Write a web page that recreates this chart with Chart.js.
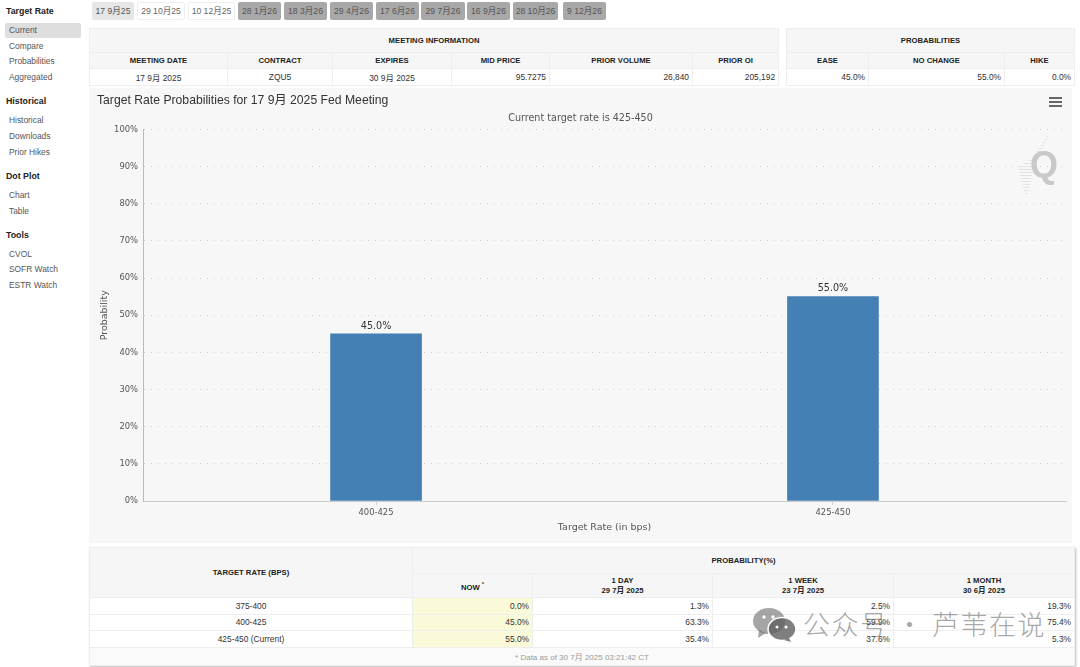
<!DOCTYPE html>
<html>
<head>
<meta charset="utf-8">
<script src="https://cdn.jsdelivr.net/npm/chart.js@4"></script>
<style>
  html, body { margin:0; padding:0; background:#fff; width:1080px; height:667px; overflow:hidden; }
  body { font-family:"Liberation Sans","Noto Sans CJK SC",sans-serif; color:#333; position:relative; }
  .side-h { position:absolute; left:6px; font-size:8.8px; font-weight:bold; color:#222; line-height:12px; }
  .side-i { position:absolute; left:9px; font-size:8.4px; color:#555; line-height:12px; }
  #side-sel { position:absolute; left:5px; top:23px; width:76px; height:15px; background:#dedede; border-radius:2px; }
  .tab { position:absolute; top:2px; height:18px; line-height:18px; text-align:center; font-size:8.6px; border-radius:2px; box-sizing:border-box; }
  .tab.near { background:#e6e6e6; color:#555; }
  .tab.open { background:#fff; color:#666; border:1px solid #eee; line-height:16px; }
  .tab.far { background:#a8a8a8; color:#555; }
  table { position:absolute; border-collapse:collapse; table-layout:fixed; font-size:8.4px; color:#333; }
  td, th { border:1px solid #eee; padding:0 3px; overflow:hidden; white-space:nowrap; box-sizing:border-box; }
  th { background:#f6f6f6; font-size:7.7px; font-weight:bold; color:#222; text-align:center; line-height:10px; }
  td { text-align:right; background:#fff; }
  td.c { text-align:center; }
  td.now { background:#fafad8; }
  #foot { box-shadow:1px 1px 2px #bbb; }
  #foot tr.note td { background:#fafafa; color:#999; text-align:center; font-size:8px; }
  #panel { position:absolute; left:89px; top:88px; width:983px; height:455px; background:#f7f7f7; }
  #heading { position:absolute; left:97px; top:92px; font-size:12.2px; color:#333; line-height:16px; }
  #menu { position:absolute; left:1049px; top:97px; width:13px; height:2px; background:#666; box-shadow:0 4px 0 #666, 0 8px 0 #666; }
  #logo { position:absolute; left:1030px; top:146px; font-size:36px; font-weight:bold; color:#c9c9c9; line-height:38px; }
  #logo-rays { position:absolute; left:1018px; top:134px; width:32px; height:60px;
    background:repeating-linear-gradient(0deg, #e2e2e2 0 1px, transparent 1px 3px);
    clip-path:polygon(95% 0, 100% 0, 55% 45%, 30% 100%, 22% 100%, 0 55%, 45% 40%); }
  #mark { position:absolute; left:753px; top:606px; width:300px; height:36px; color:rgba(110,110,110,.62); }
  #mark span { position:absolute; left:50px; top:0; font-size:27px; line-height:36px; white-space:nowrap; letter-spacing:1.5px; font-family:"Noto Sans CJK SC",sans-serif; font-weight:300; }
  #mark svg { position:absolute; left:0; top:2px; }
</style>
</head>
<body>
<div id="side-sel"></div>
<div id="sidebar"></div>
<div id="tabs"></div>

<table style="left:89px;top:28px;width:689px;height:57px">
  <colgroup><col style="width:138px"><col style="width:105px"><col style="width:119px"><col style="width:98px"><col style="width:143px"><col style="width:86px"></colgroup>
  <tr style="height:24px"><th colspan="6">MEETING INFORMATION</th></tr>
  <tr style="height:16px"><th>MEETING DATE</th><th>CONTRACT</th><th>EXPIRES</th><th>MID PRICE</th><th>PRIOR VOLUME</th><th>PRIOR OI</th></tr>
  <tr style="height:17px"><td class="c">17 9月 2025</td><td class="c">ZQU5</td><td class="c">30 9月 2025</td><td>95.7275</td><td>26,840</td><td>205,192</td></tr>
</table>
<table style="left:786px;top:28px;width:288px;height:57px">
  <colgroup><col style="width:82px"><col style="width:136px"><col style="width:70px"></colgroup>
  <tr style="height:24px"><th colspan="3">PROBABILITIES</th></tr>
  <tr style="height:16px"><th>EASE</th><th>NO CHANGE</th><th>HIKE</th></tr>
  <tr style="height:17px"><td>45.0%</td><td>55.0%</td><td>0.0%</td></tr>
</table>

<div id="panel"><canvas id="rate-chart" width="983" height="455"></canvas></div>
<div id="heading">Target Rate Probabilities for 17 9月 2025 Fed Meeting</div>
<div id="menu"></div>
<div id="logo-rays"></div>
<div id="logo">Q</div>

<table id="foot" style="left:89px;top:547px;width:985px;height:118px">
  <colgroup><col style="width:323px"><col style="width:120px"><col style="width:180px"><col style="width:181px"><col style="width:181px"></colgroup>
  <tr style="height:26px"><th rowspan="2">TARGET RATE (BPS)</th><th colspan="4">PROBABILITY(%)</th></tr>
  <tr style="height:24px"><th>NOW <sup style="font-size:5px">*</sup></th><th>1 DAY<br>29 7月 2025</th><th>1 WEEK<br>23 7月 2025</th><th>1 MONTH<br>30 6月 2025</th></tr>
  <tbody id="prob-rows"></tbody>
  <tr class="note" style="height:18px"><td colspan="5">* Data as of 30 7月 2025 03:21:42 CT</td></tr>
</table>

<div id="mark">
  <svg width="44" height="34" viewBox="0 0 44 34">
    <ellipse cx="16" cy="13" rx="16" ry="13" fill="rgba(110,110,110,.62)"/>
    <path d="M6 22 L5 30 L13 25 Z" fill="rgba(110,110,110,.62)"/>
    <ellipse cx="29" cy="21" rx="14" ry="11.5" fill="rgba(95,95,95,.8)" stroke="#fff" stroke-width="1.5"/>
    <path d="M36 30 L38 34 L31 32 Z" fill="rgba(95,95,95,.8)"/>
    <circle cx="11" cy="9" r="1.7" fill="#fff"/><circle cx="20" cy="9" r="1.7" fill="#fff"/>
    <circle cx="24" cy="19" r="1.5" fill="#fff"/><circle cx="33" cy="19" r="1.5" fill="#fff"/>
  </svg>
  <span>公众号 · 芦苇在说</span>
</div>

<script>
// data
const rateLabels = ['400-425', '425-450'];
const rateProbs = [45.0, 55.0];
const yTicks = [0, 10, 20, 30, 40, 50, 60, 70, 80, 90, 100];

const tabLabels = ['17 9月25','29 10月25','10 12月25','28 1月26','18 3月26','29 4月26','17 6月26','29 7月26','16 9月26','28 10月26','9 12月26'];
const tabLefts = [92,137,188,238,284,330,376,421,467,513,563];
const tabWidths = [42,48,47,43,43,43,43,44,43,45,43];

const rowRates = ['375-400', '400-425', '425-450 (Current)'];
const rowNow = ['0.0%', '45.0%', '55.0%'];
const rowDay = ['1.3%', '63.3%', '35.4%'];
const rowWeek = ['2.5%', '59.9%', '37.6%'];
const rowMonth = ['19.3%', '75.4%', '5.3%'];

const sideHeads = [['Target Rate', 5], ['Historical', 95], ['Dot Plot', 170], ['Tools', 229]];
const sideItems = [['Current', 24], ['Compare', 40], ['Probabilities', 55], ['Aggregated', 71],
  ['Historical', 114], ['Downloads', 130], ['Prior Hikes', 146],
  ['Chart', 189], ['Table', 205], ['CVOL', 248], ['SOFR Watch', 263], ['ESTR Watch', 279]];

// ── page furniture ──
document.getElementById('sidebar').innerHTML =
  sideHeads.map(h => `<div class="side-h" style="top:${h[1]}px">${h[0]}</div>`).join('') +
  sideItems.map(s => `<div class="side-i" style="top:${s[1]}px">${s[0]}</div>`).join('');

document.getElementById('tabs').innerHTML = tabLabels.map((t, i) => {
  const cls = i === 0 ? 'near' : i < 3 ? 'open' : 'far';
  return `<div class="tab ${cls}" style="left:${tabLefts[i]}px;width:${tabWidths[i]}px">${t}</div>`;
}).join('');

document.getElementById('prob-rows').innerHTML = rowRates.map((r, i) => `
  <tr style="height:16.6px">
    <td class="c">${r}</td>
    <td class="now">${rowNow[i]}</td>
    <td>${rowDay[i]}</td>
    <td>${rowWeek[i]}</td>
    <td>${rowMonth[i]}</td>
  </tr>`).join('');

// ── value labels above bars ──
const barValueLabels = {
  id: 'barValueLabels',
  afterDatasetsDraw(chart) {
    const { ctx } = chart;
    chart.getDatasetMeta(0).data.forEach((bar, i) => {
      ctx.save();
      ctx.font = '9.6px "DejaVu Sans"';
      ctx.fillStyle = '#333';
      ctx.textAlign = 'center';
      ctx.textBaseline = 'bottom';
      ctx.fillText(rateProbs[i].toFixed(1) + '%', bar.x, bar.y - 3);
      ctx.restore();
    });
  }
};

new Chart(document.getElementById('rate-chart'), {
  type: 'bar',
  data: {
    datasets: [{
      data: rateProbs.map((v, i) => ({ x: i, y: v })),
      backgroundColor: '#4580b5',
      borderWidth: 0,
      barThickness: 91,
    }]
  },
  plugins: [barValueLabels],
  options: {
    responsive: false,
    animation: false,
    layout: { padding: { left: 6, right: 6 } },
    plugins: {
      legend: { display: false },
      tooltip: { enabled: false },
      title: {
        display: true,
        text: 'Current target rate is 425-450',
        color: '#555',
        font: { family: 'DejaVu Sans', size: 9.6, weight: 'normal' },
        padding: { top: 25, bottom: 5 },
      },
    },
    scales: {
      x: {
        type: 'linear',
        offset: false,
        min: -0.51,
        max: 1.51,
        afterBuildTicks: s => { s.ticks = rateLabels.map((_, i) => ({ value: i })); },
        afterFit: s => { s.height = 42; },
        ticks: {
          callback: v => rateLabels[v],
          color: '#555',
          font: { family: 'DejaVu Sans', size: 8.4 },
          maxRotation: 0,
          padding: 3,
        },
        grid: { offset: false, drawOnChartArea: false, color: '#ccc', tickLength: 4 },
        border: { color: '#ccc', width: 1 },
        title: {
          display: true,
          text: 'Target Rate (in bps)',
          color: '#555',
          font: { family: 'DejaVu Sans', size: 9.5 },
          padding: { top: 0, bottom: 10 },
        },
      },
      y: {
        min: 0,
        max: 100,
        afterBuildTicks: s => { s.ticks = yTicks.map(v => ({ value: v })); },
        afterFit: s => { s.width = 48; },
        ticks: {
          callback: v => v + '%',
          color: '#555',
          font: { family: 'DejaVu Sans', size: 8.4 },
          padding: 5,
        },
        grid: { color: '#cfcfcf', drawTicks: false },
        border: { color: '#bbb', width: 1, dash: [1, 6] },
        title: {
          display: true,
          text: 'Probability',
          color: '#555',
          font: { family: 'DejaVu Sans', size: 9.5 },
          padding: { top: 4, bottom: 0 },
        },
      },
    },
  },
});
</script>
</body>
</html>
